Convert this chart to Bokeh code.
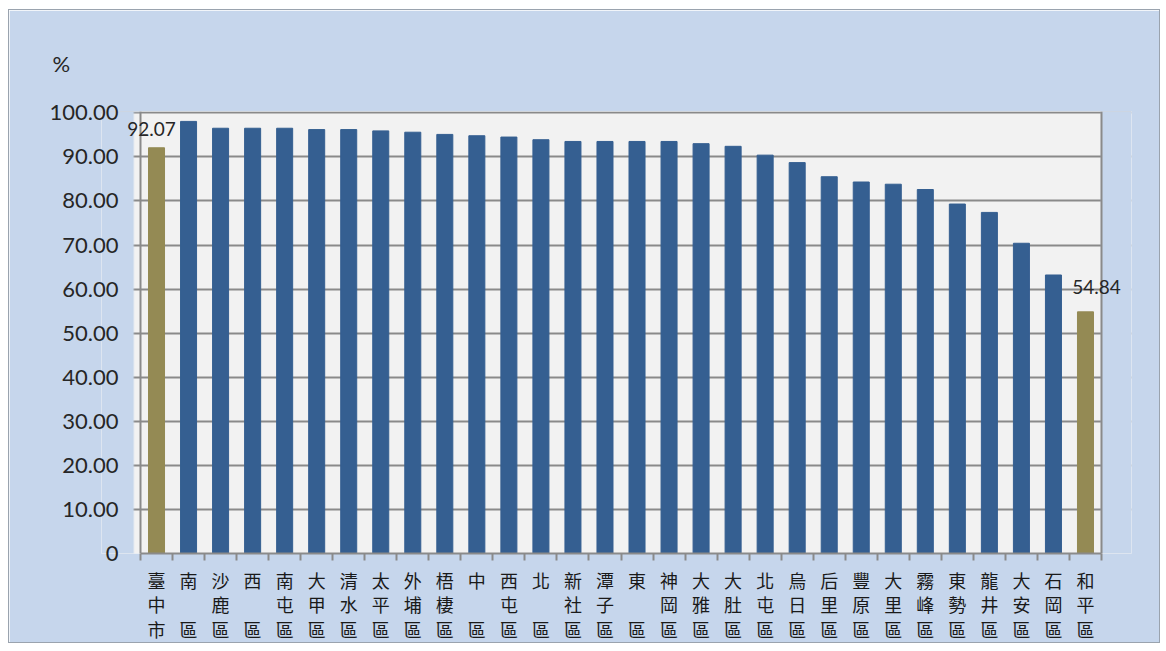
from bokeh.plotting import figure
from bokeh.models import (ColumnDataSource, Range1d, LinearAxis, FixedTicker, NumeralTickFormatter,
                          CustomJSTickFormatter, LabelSet, Title, BoxAnnotation, Span)
from bokeh.core.properties import value
from bokeh.embed import file_html
from bokeh.resources import INLINE

# ---- data ----
districts = ["臺中市", "南區", "沙鹿區", "西區", "南屯區", "大甲區", "清水區", "太平區", "外埔區", "梧棲區",
             "中區", "西屯區", "北區", "新社區", "潭子區", "東區", "神岡區", "大雅區", "大肚區", "北屯區",
             "烏日區", "后里區", "豐原區", "大里區", "霧峰區", "東勢區", "龍井區", "大安區", "石岡區", "和平區"]
values = [92.07, 98.05, 96.5, 96.5, 96.5, 96.2, 96.2, 95.9, 95.6, 95.1,
          94.8, 94.5, 93.9, 93.5, 93.5, 93.5, 93.5, 93.0, 92.4, 90.4,
          88.7, 85.5, 84.3, 83.8, 82.6, 79.3, 77.4, 70.4, 63.2, 54.84]
labelled = ["臺中市", "和平區"]
labelled_values = [92.07, 54.84]
y_ticks = [0, 10, 20, 30, 40, 50, 60, 70, 80, 90, 100]
unit_label = "%"

BLUE = "#355f91"
GOLD = "#948a54"
BG = "#c6d6ec"
GRID = "#8a8a8a"
colors = [GOLD if d in labelled else BLUE for d in districts]
n = len(districts)
centers = [i + 0.5 for i in range(n)]          # category slot centres on a 0..n scale
# frame extends a little beyond the plot area so the data labels are not cut off
PAD_L, PAD_R = 1.2175, 0.9365
TICK = 0.2185                                   # 7 px of y-tick stub left of the plot area


def vertical(name):
    chars = list(name)
    if len(chars) == 2:
        chars = [chars[0], "\u3000", chars[1]]
    return "\n".join(chars)


src = ColumnDataSource(dict(x=centers, top=values, color=colors, name=districts))

p = figure(width=1152, height=634, x_range=Range1d(-PAD_L, n + PAD_R), y_range=Range1d(0, 100.3),
           output_backend="svg", toolbar_location=None, x_axis_location=None, y_axis_location=None,
           min_border_left=92, min_border_right=30, min_border_top=101, min_border_bottom=90)

p.background_fill_color = "#f2f2f2"
p.border_fill_color = BG
p.outline_line_color = None
p.styles = {"margin-left": "8px", "margin-top": "9px",
            "border": "1px solid #9aa3ae", "box-sizing": "border-box"}

p.xgrid.visible = False
p.ygrid.ticker = FixedTicker(ticks=y_ticks)
p.ygrid.grid_line_color = GRID
p.ygrid.grid_line_width = 2

# paint the frame margins outside the plot area with the chart background
# (the grid lines left visible for 7 px left of the plot area act as the y ticks)
p.add_layout(BoxAnnotation(right=-TICK, fill_color=BG, fill_alpha=1, line_color=BG, line_width=2,
                           level="underlay"))
p.add_layout(BoxAnnotation(left=n, fill_color=BG, fill_alpha=1, line_color=BG, line_width=2,
                           level="underlay"))
p.add_layout(BoxAnnotation(bottom=100.15, right=0, fill_color=BG, fill_alpha=1, line_color=None,
                           level="underlay"))
p.add_layout(BoxAnnotation(bottom=100.15, left=n, fill_color=BG, fill_alpha=1, line_color=None,
                           level="underlay"))

p.vbar(x="x", top="top", width=0.5, color="color", source=src)

# plot-area side borders
p.add_layout(Span(location=0, dimension="height", line_color=GRID, line_width=2))
p.add_layout(Span(location=n, dimension="height", line_color=GRID, line_width=2))

# y tick labels (axis line / ticks are drawn by the spans and grid stubs)
yax = LinearAxis(ticker=FixedTicker(ticks=y_ticks), formatter=NumeralTickFormatter(format="0.00"))
yax.major_label_overrides = {0: "0"}
yax.major_label_text_font = "Lato"
yax.major_label_text_font_size = "22px"
yax.major_label_text_color = "#262626"
yax.major_label_standoff = -17
yax.major_tick_out = 0
yax.major_tick_in = 0
yax.major_tick_line_color = None
yax.minor_tick_out = 0
yax.minor_tick_in = 0
yax.minor_tick_line_color = None
yax.axis_line_color = None
p.add_layout(yax, "left")

# x ticks at category boundaries
tax = LinearAxis(ticker=FixedTicker(ticks=list(range(n + 1))), bounds=(0, n))
tax.major_label_text_font_size = "0px"
tax.major_label_standoff = 0
tax.major_tick_out = 7
tax.major_tick_in = 0
tax.minor_tick_out = 0
tax.axis_line_color = GRID
tax.axis_line_width = 2
tax.major_tick_line_color = GRID
tax.major_tick_line_width = 2
p.add_layout(tax, "below")

# x labels at slot centres
xax = LinearAxis(ticker=FixedTicker(ticks=centers),
                 formatter=CustomJSTickFormatter(args=dict(labels=[vertical(d) for d in districts]),
                                                 code="return labels[Math.floor(tick)];"))
xax.major_label_text_font = "Noto Sans CJK TC"
xax.major_label_text_font_size = "18px"
xax.major_label_text_line_height = 0.95
xax.major_label_text_color = "#1a1a1a"
xax.major_label_standoff = 6
xax.major_tick_line_color = None
xax.major_tick_out = 0
xax.minor_tick_out = 0
xax.axis_line_color = None
p.add_layout(xax, "below")

# data labels
lab_x = [centers[districts.index(d)] for d in labelled]
lab_src = ColumnDataSource(dict(x=lab_x, y=labelled_values,
                                text=[f"{v:.2f}" for v in labelled_values],
                                xo=[-5, 11], yo=[19, 25]))
p.add_layout(LabelSet(x="x", y="y", text="text", x_offset="xo", y_offset="yo", source=lab_src,
                      text_font=value("Lato"), text_font_size=value("19px"), text_color="#262626",
                      text_align="center", text_baseline="middle"))

# unit label
p.add_layout(Title(text=unit_label, align="left", offset=-49, standoff=70, text_font="Lato",
                   text_font_size="22px", text_font_style="normal", text_color="#262626"), "above")

open("out.html", "w").write(file_html(p, INLINE))
